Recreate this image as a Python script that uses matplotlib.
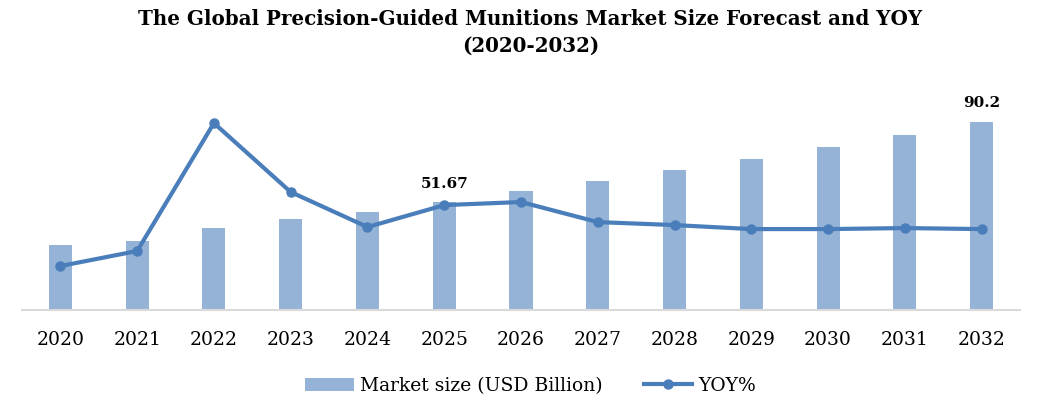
import numpy as np
import matplotlib.pyplot as plt
from matplotlib.lines import Line2D
from matplotlib.patches import Patch

# Data
years = ["2020", "2021", "2022", "2023", "2024", "2025", "2026",
         "2027", "2028", "2029", "2030", "2031", "2032"]
market_size = [31.1, 33.0, 39.2, 43.5, 46.9, 51.67, 56.9,
               61.7, 67.0, 72.2, 78.0, 83.7, 90.2]
yoy = [4.27, 5.73, 18.16, 11.46, 8.06, 10.19, 10.49,
       8.54, 8.25, 7.86, 7.86, 7.96, 7.86]
labeled_years = ["2025", "2032"]

bar_color = "#95B3D7"
line_color = "#4A7EBB"

plt.rcParams["font.family"] = ["DejaVu Serif"]

fig = plt.figure(figsize=(10.61, 4.17), dpi=100)
ax = fig.add_axes([22 / 1061, 107 / 417, 998 / 1061, 210 / 417])

x = np.arange(len(years))
ax.bar(x, market_size, width=0.30, color=bar_color, zorder=2)
ax.set_xlim(-0.5, len(years) - 0.5)
ax.set_ylim(0, 100.5)

for i, (yr, v) in enumerate(zip(years, market_size)):
    if yr in labeled_years:
        label = f"{v:g}"
        ax.annotate(label, (i, v), xytext=(0, 8), textcoords="offset points",
                    ha="center", va="bottom", fontsize=11, fontweight="bold")

ax.set_xticks(x)
ax.set_xticklabels(years, fontsize=13.5)
ax.tick_params(axis="x", length=0, pad=15)
ax.set_yticks([])
for s in ["top", "right", "left"]:
    ax.spines[s].set_visible(False)
ax.spines["bottom"].set_color("#D9D9D9")
ax.spines["bottom"].set_linewidth(1.5)

ax2 = ax.twinx()
ax2.plot(x, yoy, color=line_color, linewidth=3, marker="o", markersize=6.5, zorder=3)
ax2.set_ylim(0, 20.4)
ax2.set_yticks([])
for s in ax2.spines.values():
    s.set_visible(False)

fig.text(0.5, 0.922, "The Global Precision-Guided Munitions Market Size Forecast and YOY\n(2020-2032)",
         ha="center", va="center", fontsize=14.3, fontweight="bold", linespacing=1.45)

handles = [Patch(facecolor=bar_color, label="Market size (USD Billion)"),
           Line2D([0], [0], color=line_color, linewidth=3, marker="o", markersize=6.5, label="YOY%")]
fig.legend(handles=handles, loc="center", bbox_to_anchor=(0.5, 0.075), ncol=2, frameon=False,
           fontsize=13.5, handlelength=2.6, handletextpad=0.3, columnspacing=2.2)

fig.savefig("out.png", dpi=100)
